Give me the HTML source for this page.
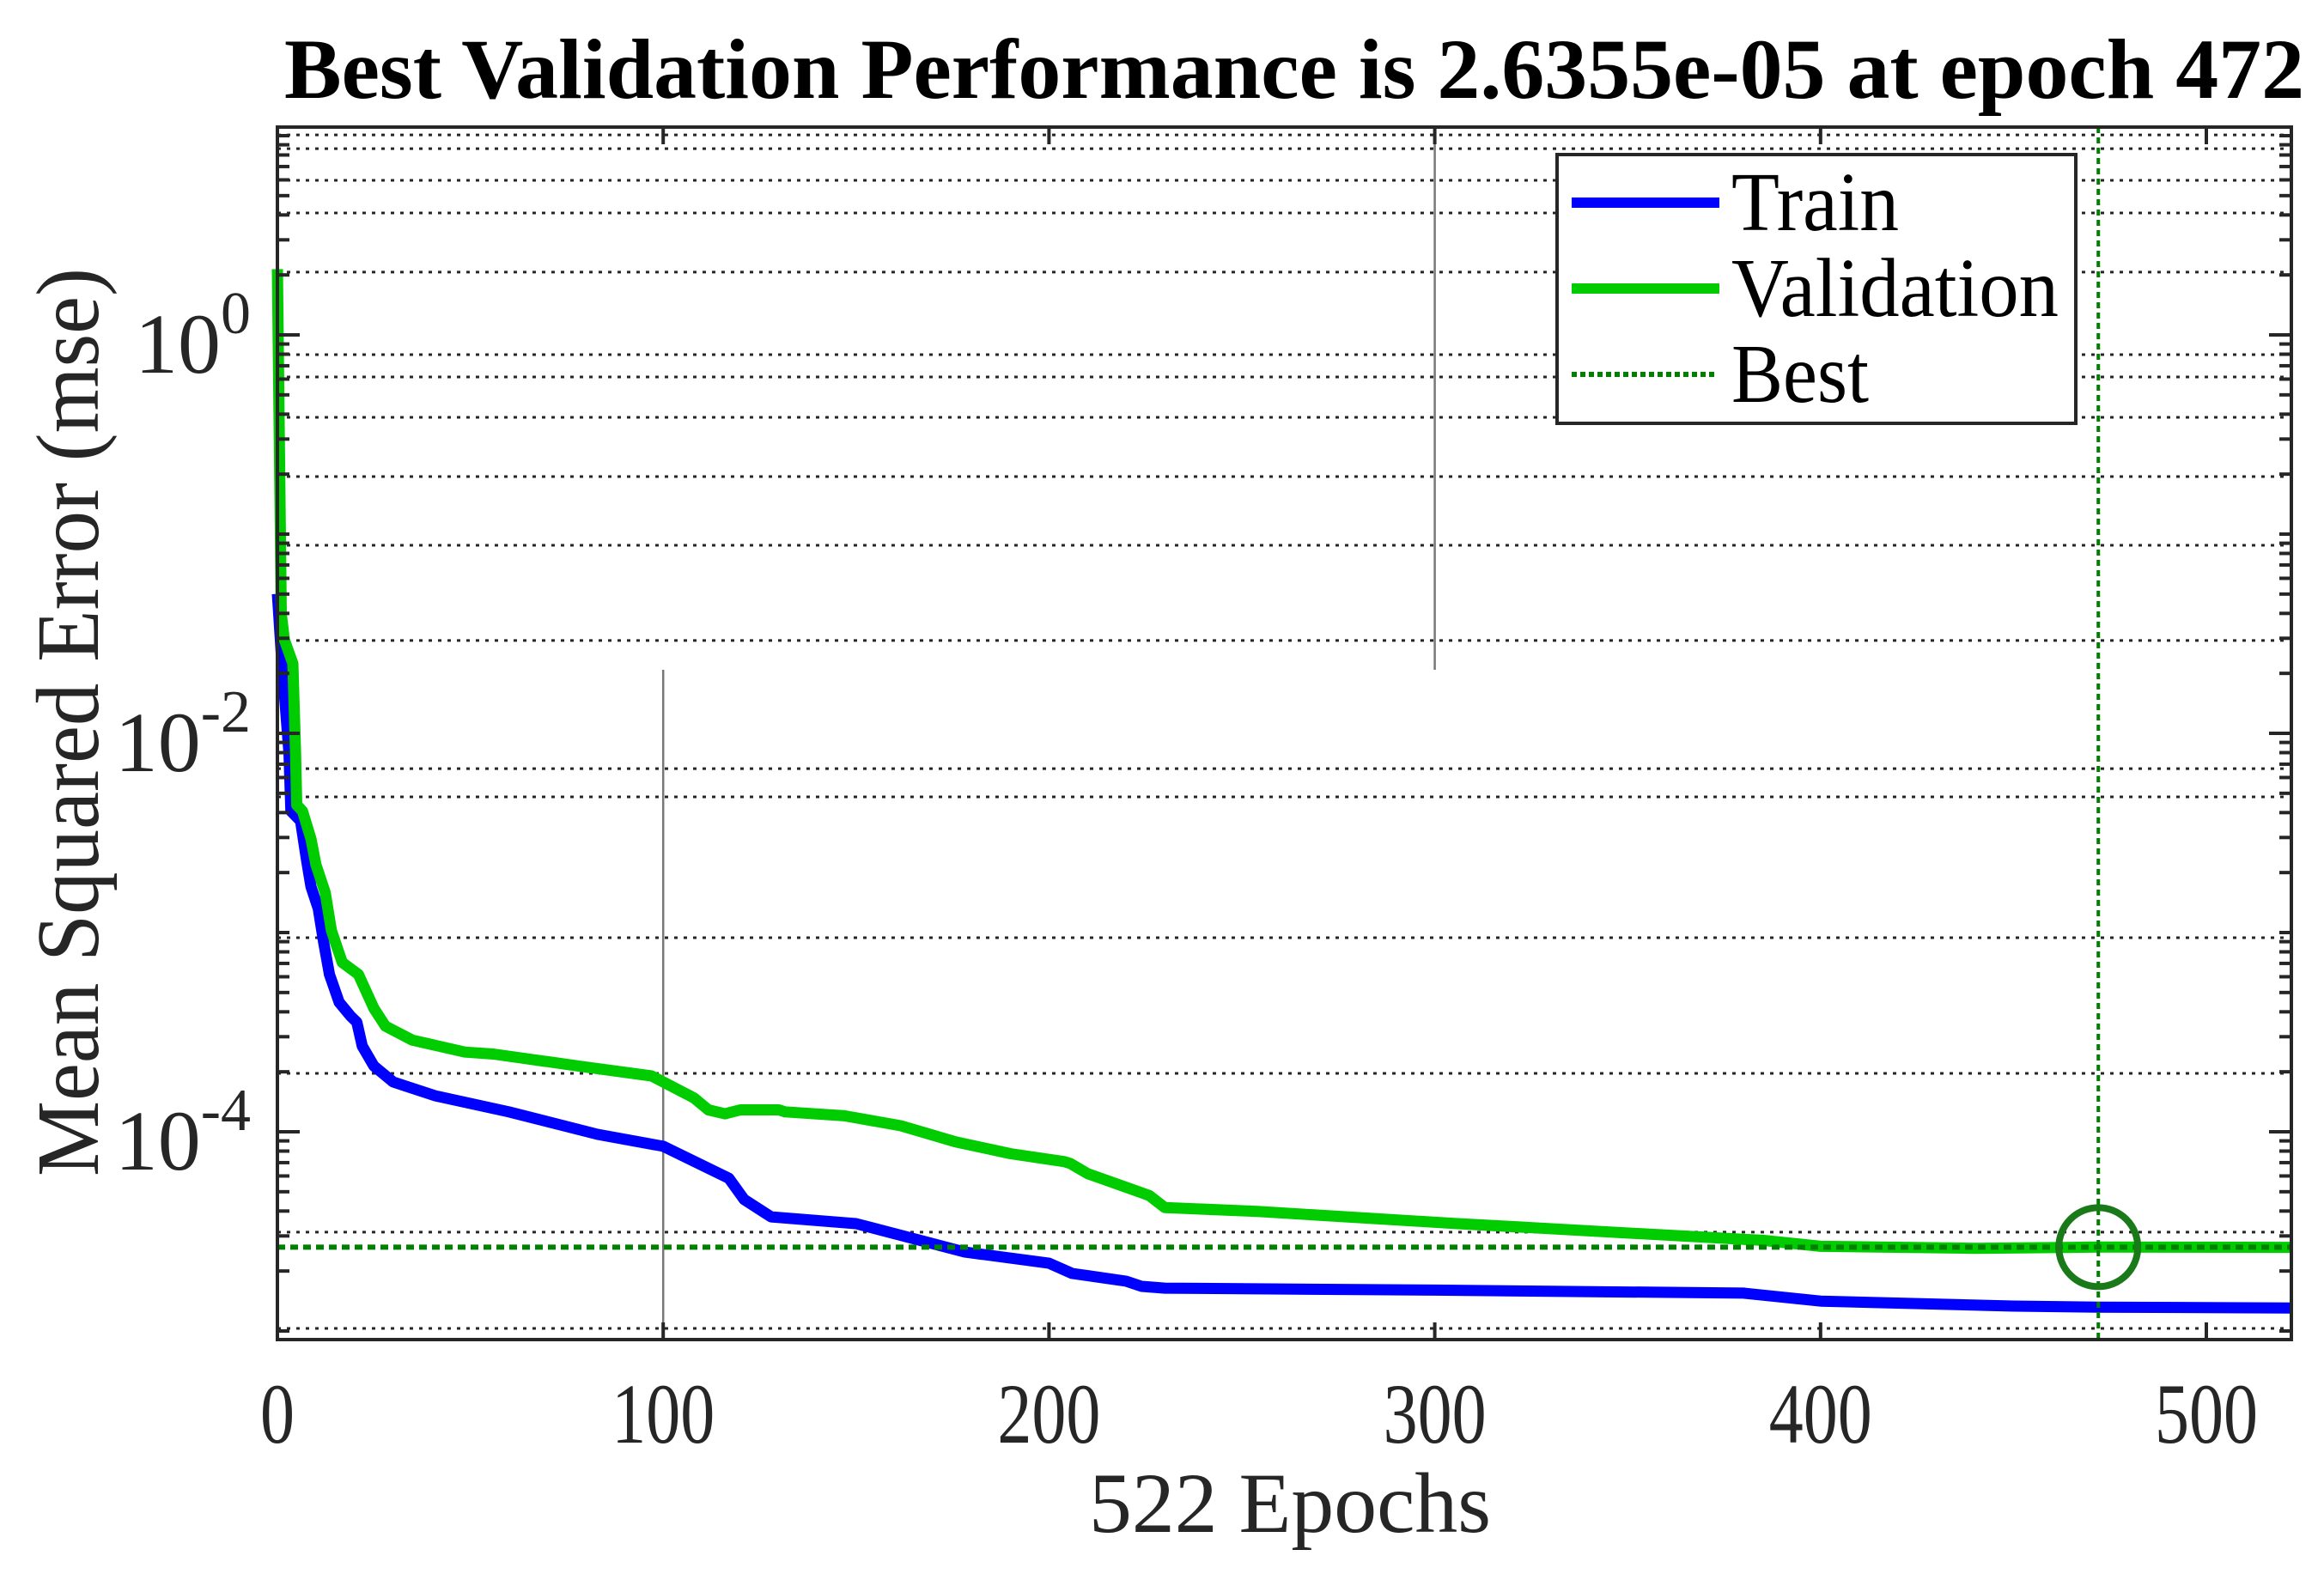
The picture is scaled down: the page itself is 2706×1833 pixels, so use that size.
<!DOCTYPE html>
<html><head><meta charset="utf-8"><style>html,body{margin:0;padding:0;background:#fff;}svg{display:block;}</style></head>
<body>
<svg id="chart" xmlns="http://www.w3.org/2000/svg" width="2706" height="1833" viewBox="0 0 2706 1833" font-family="'Liberation Serif', serif">
<rect width="2706" height="1833" fill="#fff"/>
<text x="1507" y="114" text-anchor="middle" font-weight="bold" font-size="100" textLength="2352" lengthAdjust="spacingAndGlyphs" fill="#000">Best Validation Performance is 2.6355e-05 at epoch 472</text>
<g id="grid"></g>
<g id="series"></g>
<g id="axes"></g>
<g>
<rect x="1813" y="180" width="604" height="313" fill="#fff" stroke="#262626" stroke-width="4"/>
<line x1="1830" y1="236" x2="2002" y2="236" stroke="#0000ff" stroke-width="12"/>
<text x="2016" y="268" font-size="98" textLength="195" lengthAdjust="spacingAndGlyphs">Train</text>
<line x1="1830" y1="336" x2="2002" y2="336" stroke="#00cc00" stroke-width="12"/>
<text x="2016" y="368" font-size="98" textLength="381" lengthAdjust="spacingAndGlyphs">Validation</text>
<line x1="1830" y1="436" x2="2000" y2="436" stroke="#008000" stroke-width="6" stroke-dasharray="6 4"/>
<text x="2016" y="468" font-size="98" textLength="160" lengthAdjust="spacingAndGlyphs">Best</text>
</g>
<text x="1502" y="1784" text-anchor="middle" font-size="100" textLength="468" lengthAdjust="spacingAndGlyphs" fill="#262626">522 Epochs</text>
<text transform="translate(114,841) rotate(-90)" text-anchor="middle" font-size="104" textLength="1058" lengthAdjust="spacingAndGlyphs" fill="#262626">Mean Squared Error  (mse)</text>
</svg>
<script>
const trainEpochs = [0,1,3,3.5,6,7.5,8.7,10.6,12,13.5,16,19,20.6,22,25,30,41,60,83,100,117,121,126.6,128,150,167,178,200,206,220,224,230,300,380,400,450,472,522];
const trainLog = [-1.3,-1.6,-2.1,-2.39,-2.44,-2.63,-2.77,-2.88,-3.05,-3.21,-3.35,-3.42,-3.45,-3.57,-3.67,-3.75,-3.82,-3.90,-4.013,-4.073,-4.233,-4.34,-4.41,-4.427,-4.461,-4.547,-4.603,-4.66,-4.711,-4.75,-4.776,-4.785,-4.795,-4.81,-4.85,-4.875,-4.88,-4.885];
const valEpochs = [0,1,1.8,4,4.7,5,6.5,8.7,10,12.4,14,16.8,21,25,28,35,48.6,56,78,97,108,111.7,116,120,130,131.6,147,161.6,175.7,190,204,205.6,210,226,230,254,305,380,385,400,440,472,522];
const valLog = [0.33,-1.4,-1.53,-1.65,-2.09,-2.36,-2.39,-2.53,-2.66,-2.80,-2.99,-3.15,-3.21,-3.38,-3.47,-3.54,-3.60,-3.61,-3.67,-3.72,-3.83,-3.89,-3.91,-3.89,-3.89,-3.90,-3.92,-3.97,-4.05,-4.11,-4.15,-4.16,-4.21,-4.32,-4.38,-4.40,-4.46,-4.54,-4.545,-4.575,-4.585,-4.579,-4.58];
const bestEpoch = 472;
const bestValue = 2.6355e-5;
const xTicks = [0,100,200,300,400,500];
const yMajor = [0,-2,-4];
const gridLog = [1.004,0.935,0.776,0.612,0.315,-0.099,-0.211,-0.414,-0.711,-1.056,-1.534,-2.177,-2.319,-3.026,-3.707,-4.504,-4.987];

const L=323, R=2668, T=148, B=1560;
const X0=323, XS=4.492, Y0=390, YS=232;
function xs(e){return X0+e*XS;}
function ys(lg){return Y0-lg*YS;}
const NS='http://www.w3.org/2000/svg';
function mk(tag,attrs,parent){const el=document.createElementNS(NS,tag);for(const k in attrs)el.setAttribute(k,attrs[k]);parent.appendChild(el);return el;}
const grid=document.getElementById('grid'), series=document.getElementById('series'), axes=document.getElementById('axes');

gridLog.forEach(g=>{const y=ys(g); if(y<T||y>B)return;
  const ln=mk('line',{x1:L,x2:R,y1:y,y2:y,stroke:'#262626','stroke-width':3,'stroke-dasharray':'4 7'},grid);
  
  
});
const v1=mk('line',{x1:xs(100),x2:xs(100),y1:780,y2:B,stroke:'#777','stroke-width':2.5},grid);


const v3=mk('line',{x1:xs(300),x2:xs(300),y1:T,y2:780,stroke:'#777','stroke-width':2.5},grid);



function path(ep,lg){return ep.map((e,i)=>(i?'L':'M')+xs(e).toFixed(1)+' '+ys(lg[i]).toFixed(1)).join(' ');}
const pt=mk('path',{d:path(trainEpochs,trainLog),fill:'none',stroke:'#0000ff','stroke-width':13,'stroke-linejoin':'round'},series);


const pv=mk('path',{d:path(valEpochs,valLog),fill:'none',stroke:'#00cc00','stroke-width':13,'stroke-linejoin':'round'},series);


const by=ys(Math.log10(bestValue)), bx=xs(bestEpoch);
const bh=mk('line',{x1:L,x2:R,y1:by,y2:by,stroke:'#008000','stroke-width':6,'stroke-dasharray':'9 6'},series);


const bv=mk('line',{x1:bx,x2:bx,y1:T,y2:B,stroke:'#008000','stroke-width':4,'stroke-dasharray':'7 5'},series);


const bc=mk('ellipse',{cx:bx,cy:by,rx:46,ry:46,fill:'none',stroke:'#1a7a1a','stroke-width':8},series);



const frame=mk('rect',{x:L,y:T,width:R-L,height:B-T,fill:'none',stroke:'#262626','stroke-width':4},axes);


for(let d=-6;d<=1;d++){for(let k=1;k<=9;k++){const lg=d+Math.log10(k);const y=ys(lg);if(y<T||y>B)continue;
  const major=(k===1&&yMajor.includes(d));const len=major?26:14;
  const t1=mk('line',{x1:L,x2:L+len,y1:y,y2:y,stroke:'#262626','stroke-width':4},axes);
  
  
  const t2=mk('line',{x1:R,x2:R-len,y1:y,y2:y,stroke:'#262626','stroke-width':4},axes);
  
  
}}
yMajor.forEach(d=>{const y=ys(d);
  const t=mk('text',{x:292,y:y+44,'text-anchor':'end','font-size':100,fill:'#262626'},axes);
  
  
  t.appendChild(document.createTextNode('10'));
  const s=mk('tspan',{dy:-46,'font-size':70},t);s.textContent=String(d);
});
xTicks.forEach(e=>{const x=xs(e);
  const a=mk('line',{x1:x,x2:x,y1:B,y2:B-20,stroke:'#262626','stroke-width':4},axes);
  
  
  const b=mk('line',{x1:x,x2:x,y1:T,y2:T+20,stroke:'#262626','stroke-width':4},axes);
  
  
  const s=String(e);
  const t=mk('text',{x:x,y:1680,'text-anchor':'middle','font-size':100,fill:'#262626',textLength:s.length*40,lengthAdjust:'spacingAndGlyphs'},axes);
  
  
  t.textContent=s;
});
</script>
</body></html>
